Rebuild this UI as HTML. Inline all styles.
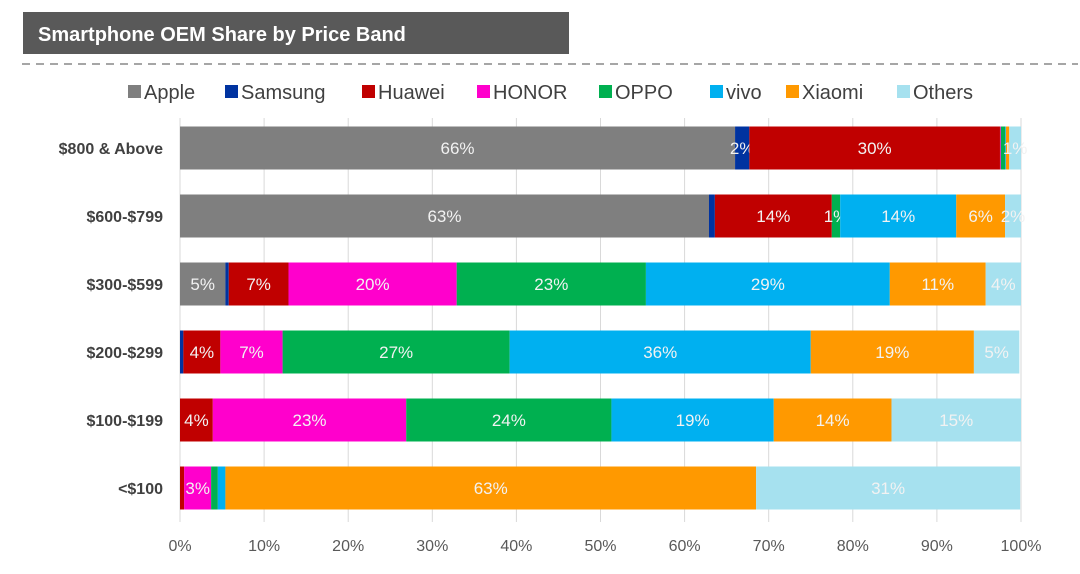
<!DOCTYPE html>
<html><head><meta charset="utf-8"><style>
body{margin:0;background:#fff;width:1080px;height:569px;overflow:hidden;font-family:"Liberation Sans",Arial,sans-serif}
</style></head><body>
<svg id="chart" width="1080" height="569" xmlns="http://www.w3.org/2000/svg" font-family="Liberation Sans, Arial, sans-serif">
<rect x="23" y="12" width="546" height="42" fill="#595959"/>
<text x="38" y="41" font-size="20" font-weight="bold" fill="#fff">Smartphone OEM Share by Price Band</text>
<line x1="22" y1="64" x2="1078" y2="64" stroke="#888" stroke-width="1.5" stroke-dasharray="8,6"/>
<g id="legend"></g>
<g id="grid"></g>
<g id="bars"></g>
<g id="axis"></g>
</svg>
<script>
const categories=["$800 & Above","$600-$799","$300-$599","$200-$299","$100-$199","<$100"];
const seriesNames=["Apple","Samsung","Huawei","HONOR","OPPO","vivo","Xiaomi","Others"];
const colors=["#7f7f7f","#0033a0","#c00000","#ff00cc","#00b050","#00b0f0","#ff9900","#a6e1ef"];
const apple=[66.0,62.9,5.4,0,0,0];
const samsung=[1.7,0.7,0.4,0.4,0,0];
const huawei=[29.8,13.9,7.1,4.4,3.9,0.5];
const honor=[0.1,0,20.0,7.4,23.0,3.2];
const oppo=[0.5,1.0,22.5,27.0,24.4,0.8];
const vivo=[0.1,13.8,29.0,35.8,19.3,0.9];
const xiaomi=[0.4,5.8,11.4,19.4,14.0,63.1];
const others=[1.4,1.9,4.2,5.4,15.4,31.4];
const series=[apple,samsung,huawei,honor,oppo,vivo,xiaomi,others];
const xTicks=[0,10,20,30,40,50,60,70,80,90,100];
const NS="http://www.w3.org/2000/svg";
const x0=180,x1=1021,yTop=118,yBot=522,band=68,barH=43,firstC=148;
const xs=v=>x0+(x1-x0)*v/100;
const yc=i=>firstC+i*band;
function mk(tag,attrs,parent){const e=document.createElementNS(NS,tag);for(const k in attrs)e.setAttribute(k,attrs[k]);parent.appendChild(e);return e;}
const grid=document.getElementById('grid'),bars=document.getElementById('bars'),axis=document.getElementById('axis'),legend=document.getElementById('legend');
xTicks.forEach(t=>{
  const l=mk('line',{x1:xs(t),x2:xs(t),y1:yTop,y2:yBot,stroke:'#d9d9d9','stroke-width':1},grid);
  
  
  const tx=mk('text',{x:xs(t),y:551,'font-size':16,fill:'#595959','text-anchor':'middle'},axis);
  tx.textContent=t+'%';
  
  
});
categories.forEach((c,i)=>{
  const t=mk('text',{x:163,y:yc(i)+6,'font-size':16,'font-weight':'bold',fill:'#404040','text-anchor':'end'},axis);
  t.textContent=c;
  
  
  let acc=0;
  series.forEach((s,j)=>{
    const v=s[i];if(v<=0)return;
    const r=mk('rect',{x:xs(acc),y:yc(i)-barH/2,width:xs(acc+v)-xs(acc),height:barH,fill:colors[j]},bars);
    
    
    if(v>=1){
      const lt=mk('text',{x:(xs(acc)+xs(acc+v))/2,y:yc(i)+6,'font-size':17,fill:'#f2f2f2','text-anchor':'middle'},bars);
      lt.textContent=Math.round(v)+'%';
      
      
    }
    acc+=v;
  });
});
const legX=[128,225,362,477,599,710,786,897];
seriesNames.forEach((n,j)=>{
  const r=mk('rect',{x:legX[j],y:85,width:13,height:13,fill:colors[j]},legend);
  
  
  const t=mk('text',{x:legX[j]+16,y:99,'font-size':20,fill:'#404040'},legend);
  t.textContent=n;
  
  
});
</script>
</body></html>
